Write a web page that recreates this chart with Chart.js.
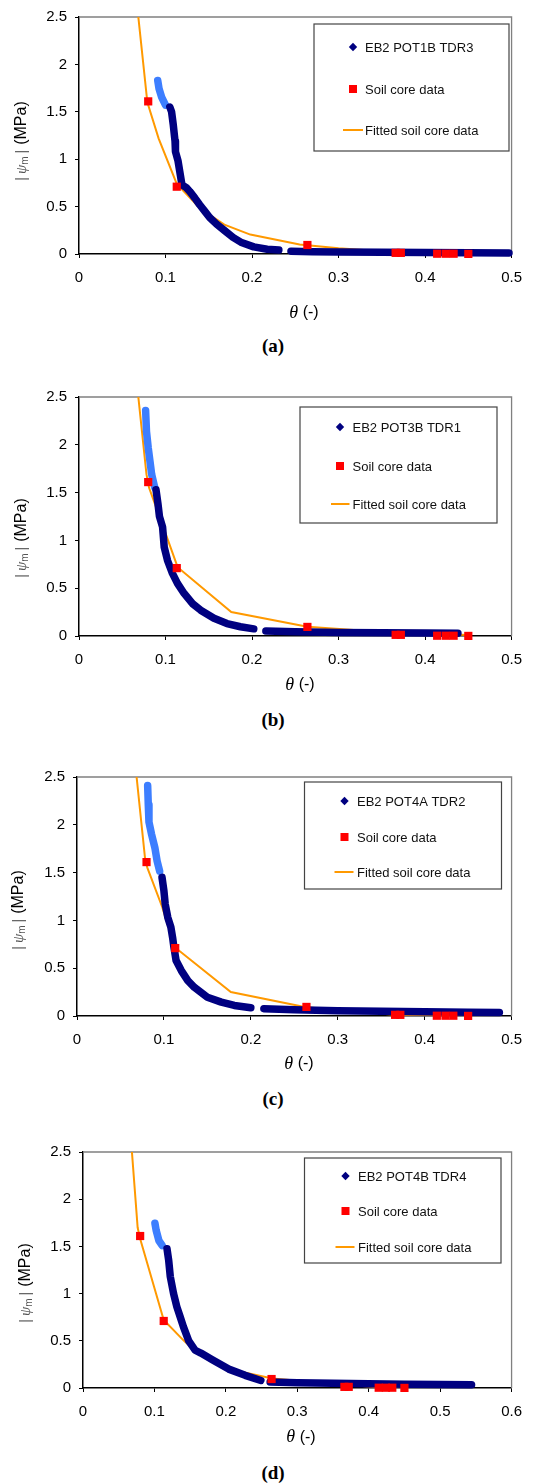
<!DOCTYPE html>
<html>
<head>
<meta charset="utf-8">
<script src="https://cdn.jsdelivr.net/npm/chart.js@4.4.1/dist/chart.umd.min.js"></script>
<style>
    body { margin: 0; background: #fff; width: 533px; height: 1484px; position: relative; overflow: hidden; }
    .panel { position: absolute; left: 0; width: 533px; }
    .cap { position: absolute; width: 60px; margin-left: -30px; text-align: center; font: bold 19px "Liberation Serif", "Times New Roman", serif; line-height: 22px; color: #000; }
</style>
</head>
<body>
<div class="panel" style="top:0px"><canvas id="chartA" width="533" height="330"></canvas></div>
<div class="panel" style="top:380px"><canvas id="chartB" width="533" height="320"></canvas></div>
<div class="panel" style="top:760px"><canvas id="chartC" width="533" height="320"></canvas></div>
<div class="panel" style="top:1135px"><canvas id="chartD" width="533" height="320"></canvas></div>
<div class="cap" style="left:273px;top:335px">(a)</div>
<div class="cap" style="left:273px;top:709px">(b)</div>
<div class="cap" style="left:273px;top:1088px">(c)</div>
<div class="cap" style="left:273px;top:1462px">(d)</div>

<script>
// tick labels
const yTicks = [0, 0.5, 1, 1.5, 2, 2.5];
const xTicks05 = [0, 0.1, 0.2, 0.3, 0.4, 0.5];
const xTicks06 = [0, 0.1, 0.2, 0.3, 0.4, 0.5, 0.6];

const coreName = "Soil core data";
const fitName = "Fitted soil core data";

// soil core samples (same in every pot)
const coreTheta = [0.080, 0.113, 0.264, 0.366, 0.372, 0.414, 0.424, 0.433, 0.450];
const corePsi = [1.61, 0.71, 0.095, 0.012, 0.012, 0.003, 0.003, 0.003, 0.001];

// (a) EB2 POT1B TDR3
const nameA = "EB2 POT1B TDR3";
const lightThetaA = [0.091, 0.0925, 0.0955, 0.100];
const lightPsiA = [1.83, 1.745, 1.655, 1.57];
const darkThetaA = [0.105, 0.107, 0.109, 0.111, 0.1115, 0.1145, 0.1165, 0.119, 0.124, 0.128, 0.134, 0.1395, 0.1455, 0.151, 0.159, 0.1685, 0.178, 0.187, 0.202, 0.2175, 0.231];
const darkPsiA = [1.55, 1.50, 1.36, 1.19, 1.08, 0.98, 0.87, 0.73, 0.70, 0.66, 0.59, 0.52, 0.45, 0.385, 0.315, 0.245, 0.175, 0.125, 0.075, 0.05, 0.042];
const tailThetaA = [0.245, 0.27, 0.30, 0.35, 0.40, 0.45, 0.497];
const tailPsiA = [0.03, 0.025, 0.022, 0.018, 0.015, 0.012, 0.01];
const fitThetaA = [0.068, 0.079, 0.092, 0.113, 0.14, 0.168, 0.198, 0.255, 0.30, 0.35, 0.40, 0.45];
const fitPsiA = [2.55, 1.60, 1.22, 0.74, 0.48, 0.31, 0.205, 0.10, 0.06, 0.03, 0.01, 0.002];

// (b) EB2 POT3B TDR1
const nameB = "EB2 POT3B TDR1";
const lightThetaB = [0.077, 0.078, 0.080, 0.082, 0.084, 0.0875];
const lightPsiB = [2.36, 2.14, 1.97, 1.83, 1.69, 1.555];
const darkThetaB = [0.089, 0.0913, 0.093, 0.0966, 0.0985, 0.1023, 0.108, 0.1138, 0.1215, 0.131, 0.1406, 0.156, 0.171, 0.1866, 0.202];
const darkPsiB = [1.53, 1.38, 1.25, 1.14, 0.93, 0.79, 0.655, 0.55, 0.445, 0.34, 0.27, 0.185, 0.13, 0.097, 0.075];
const tailThetaB = [0.216, 0.25, 0.30, 0.35, 0.40, 0.438];
const tailPsiB = [0.052, 0.045, 0.037, 0.033, 0.031, 0.03];
const fitThetaB = [0.068, 0.078, 0.081, 0.099, 0.114, 0.176, 0.264, 0.33, 0.40, 0.45];
const fitPsiB = [2.55, 1.69, 1.55, 1.10, 0.72, 0.25, 0.097, 0.055, 0.025, 0.01];

// (c) EB2 POT4A TDR2
const nameC = "EB2 POT4A TDR2";
const lightThetaC = [0.0813, 0.082, 0.0828, 0.0858, 0.0896, 0.0922, 0.0951];
const lightPsiC = [2.41, 2.21, 2.03, 1.90, 1.76, 1.62, 1.515];
const darkThetaC = [0.0978, 0.100, 0.1015, 0.1045, 0.108, 0.110, 0.1115, 0.114, 0.120, 0.1275, 0.135, 0.150, 0.166, 0.181, 0.200];
const darkPsiC = [1.45, 1.31, 1.17, 1.03, 0.93, 0.82, 0.72, 0.58, 0.475, 0.37, 0.30, 0.197, 0.145, 0.11, 0.087];
const tailThetaC = [0.215, 0.25, 0.30, 0.35, 0.40, 0.45, 0.486];
const tailPsiC = [0.076, 0.065, 0.055, 0.05, 0.045, 0.04, 0.036];
const fitThetaC = [0.068, 0.0785, 0.081, 0.098, 0.1125, 0.177, 0.262, 0.30, 0.37, 0.45];
const fitPsiC = [2.55, 1.63, 1.55, 1.14, 0.72, 0.25, 0.095, 0.06, 0.01, 0.001];

// (d) EB2 POT4B TDR4
const nameD = "EB2 POT4B TDR4";
const lightThetaD = [0.1007, 0.1025, 0.1062, 0.1108];
const lightPsiD = [1.745, 1.668, 1.562, 1.51];
const darkThetaD = [0.1176, 0.120, 0.1222, 0.1268, 0.1314, 0.136, 0.1405, 0.148, 0.157, 0.165, 0.181, 0.204, 0.227, 0.249];
const darkPsiD = [1.475, 1.35, 1.18, 1.00, 0.86, 0.755, 0.65, 0.50, 0.40, 0.37, 0.30, 0.20, 0.134, 0.08];
const tailThetaD = [0.262, 0.30, 0.35, 0.40, 0.45, 0.50, 0.544];
const tailPsiD = [0.063, 0.055, 0.05, 0.045, 0.04, 0.037, 0.035];
const fitThetaD = [0.068, 0.0765, 0.080, 0.113, 0.14, 0.16, 0.21, 0.265, 0.35, 0.41, 0.45];
const fitPsiD = [2.55, 1.70, 1.58, 0.72, 0.51, 0.37, 0.19, 0.10, 0.045, 0.01, 0.003];

const navy = "#000080";
const lightBlue = "#3d7eff";
const orange = "#ff9900";
const red = "#ff0000";
const sans = '"Liberation Sans", Arial, sans-serif';
const serif = '"Liberation Serif", "Times New Roman", serif';

function pts(xs, ys) {
    return xs.map((x, i) => ({ x: x, y: ys[i] }));
}

function fmt(v) {
    return String(Math.round(v * 10) / 10);
}

// gray frame on top and right of the plot area
const framePlugin = {
    id: "frame",
    beforeDatasetsDraw(chart) {
        const a = chart.chartArea;
        const c = chart.ctx;
        c.save();
        c.strokeStyle = "#808080";
        c.lineWidth = 1.3;
        c.beginPath();
        c.moveTo(a.left, a.top);
        c.lineTo(a.right, a.top);
        c.lineTo(a.right, a.bottom);
        c.stroke();
        c.restore();
    }
};

// axis titles and boxed legend
const decorPlugin = {
    id: "decor",
    afterDraw(chart, args, o) {
        const c = chart.ctx;
        c.save();

        // y title, reading bottom to top
        c.translate(o.yTitle[0], o.yTitle[1]);
        c.rotate(-Math.PI / 2);
        c.textBaseline = "middle";
        const parts = [
            { t: "|", f: "14px " + sans, col: "#555", dy: 0, gap: 3 },
            { t: "ψ", f: "italic 15px " + serif, col: "#555", dy: 0, gap: 0 },
            { t: "m", f: "10px " + sans, col: "#555", dy: 3, gap: 3 },
            { t: "|", f: "14px " + sans, col: "#555", dy: 0, gap: 5 },
            { t: "(MPa)", f: "16px " + sans, col: "#000", dy: 0, gap: 0 }
        ];
        let total = 0;
        parts.forEach((p) => {
            c.font = p.f;
            p.w = c.measureText(p.t).width;
            total += p.w + p.gap;
        });
        let px = -total / 2;
        parts.forEach((p) => {
            c.font = p.f;
            c.fillStyle = p.col;
            c.fillText(p.t, px, p.dy);
            px += p.w + p.gap;
        });
        c.setTransform(1, 0, 0, 1, 0, 0);

        // x title
        c.textBaseline = "middle";
        c.fillStyle = "#000";
        c.font = "italic 18px " + serif;
        const w1 = c.measureText("θ").width;
        c.font = "16px " + sans;
        const w2 = c.measureText(" (-)").width;
        let tx = o.xTitle[0] - (w1 + w2) / 2;
        c.font = "italic 18px " + serif;
        c.fillText("θ", tx, o.xTitle[1]);
        c.font = "16px " + sans;
        c.fillText(" (-)", tx + w1, o.xTitle[1]);

        // legend box
        const b = o.box;
        c.strokeStyle = "#444";
        c.lineWidth = 1.2;
        c.strokeRect(b.x, b.y, b.w, b.h);
        c.font = "13px " + sans;
        const labels = [o.name, coreName, fitName];
        labels.forEach((t, i) => {
            c.fillStyle = "#111";
            c.fillText(t, b.x + b.tx, b.y + b.rows[i] + 1);
        });
        const mx = b.x + b.mk;
        let my = b.y + b.rows[0];
        c.fillStyle = navy;
        c.beginPath();
        c.moveTo(mx, my - 4.2);
        c.lineTo(mx + 4.2, my);
        c.lineTo(mx, my + 4.2);
        c.lineTo(mx - 4.2, my);
        c.closePath();
        c.fill();
        my = b.y + b.rows[1];
        c.fillStyle = red;
        c.fillRect(mx - 4, my - 4, 8, 8);
        my = b.y + b.rows[2];
        c.strokeStyle = orange;
        c.lineWidth = 2;
        c.beginPath();
        c.moveTo(b.x + b.ln[0], my);
        c.lineTo(b.x + b.ln[1], my);
        c.stroke();
        c.restore();
    }
};

function buildChart(id, p) {
    const canvas = document.getElementById(id);
    const band = (data, color) => ({
        data: data,
        showLine: true,
        borderColor: color,
        backgroundColor: color,
        borderWidth: 7.5,
        borderCapStyle: "round",
        borderJoinStyle: "round",
        pointRadius: 0,
        tension: 0,
        clip: false
    });
    return new Chart(canvas, {
        type: "scatter",
        data: {
            datasets: [
                { label: coreName, data: pts(coreTheta, corePsi), pointStyle: "rect", pointRadius: 5.8, backgroundColor: red, borderWidth: 0, order: 0, clip: false },
                Object.assign(band(pts(p.darkTheta, p.darkPsi), navy), { label: p.name, order: 1 }),
                Object.assign(band(pts(p.tailTheta, p.tailPsi), navy), { label: p.name, order: 1 }),
                Object.assign(band(pts(p.lightTheta, p.lightPsi), lightBlue), { label: p.name, order: 2 }),
                { label: fitName, data: pts(p.fitTheta, p.fitPsi), showLine: true, borderColor: orange, borderWidth: 2, pointRadius: 0, tension: 0, order: 3 }
            ]
        },
        options: {
            responsive: false,
            animation: false,
            events: [],
            layout: { padding: { top: p.padTop, right: p.padRight, left: 0, bottom: 0 } },
            plugins: {
                legend: { display: false },
                tooltip: { enabled: false },
                decor: { yTitle: p.yTitle, xTitle: p.xTitle, box: p.box, name: p.name }
            },
            scales: {
                x: {
                    type: "linear",
                    min: 0,
                    max: p.xTicks[p.xTicks.length - 1],
                    afterBuildTicks: (s) => { s.ticks = p.xTicks.map((v) => ({ value: v })); },
                    afterFit: (s) => { s.height = p.xAxisH; },
                    grid: { drawOnChartArea: false, drawTicks: true, tickLength: 4, color: "#000" },
                    border: { color: "#000", width: 1.5 },
                    ticks: { color: "#000", font: { family: sans, size: 15 }, padding: 11, maxRotation: 0, autoSkip: false, callback: (v) => fmt(v) }
                },
                y: {
                    type: "linear",
                    min: 0,
                    max: 2.5,
                    afterBuildTicks: (s) => { s.ticks = yTicks.map((v) => ({ value: v })); },
                    afterFit: (s) => { s.width = p.yAxisW; },
                    grid: { drawOnChartArea: false, drawTicks: true, tickLength: 4, color: "#000" },
                    border: { color: "#000", width: 1.5 },
                    ticks: { color: "#000", font: { family: sans, size: 15 }, padding: 8, autoSkip: false, callback: (v) => fmt(v) }
                }
            }
        },
        plugins: [framePlugin, decorPlugin]
    });
}

buildChart("chartA", {
    name: nameA, xTicks: xTicks05,
    lightTheta: lightThetaA, lightPsi: lightPsiA, darkTheta: darkThetaA, darkPsi: darkPsiA,
    tailTheta: tailThetaA, tailPsi: tailPsiA, fitTheta: fitThetaA, fitPsi: fitPsiA,
    padTop: 15, padRight: 12, yAxisW: 79, xAxisH: 76,
    yTitle: [22, 141], xTitle: [304, 313],
    box: { x: 314, y: 24, w: 195, h: 127, rows: [23, 65, 106], mk: 39, tx: 51, ln: [29, 49] }
});

buildChart("chartB", {
    name: nameB, xTicks: xTicks05,
    lightTheta: lightThetaB, lightPsi: lightPsiB, darkTheta: darkThetaB, darkPsi: darkPsiB,
    tailTheta: tailThetaB, tailPsi: tailPsiB, fitTheta: fitThetaB, fitPsi: fitPsiB,
    padTop: 16, padRight: 12, yAxisW: 79, xAxisH: 64,
    yTitle: [22, 158], xTitle: [300, 305],
    box: { x: 300, y: 27, w: 197, h: 116, rows: [20, 59, 97], mk: 40, tx: 52.5, ln: [31, 49.5] }
});

buildChart("chartC", {
    name: nameC, xTicks: xTicks05,
    lightTheta: lightThetaC, lightPsi: lightPsiC, darkTheta: darkThetaC, darkPsi: darkPsiC,
    tailTheta: tailThetaC, tailPsi: tailPsiC, fitTheta: fitThetaC, fitPsi: fitPsiC,
    padTop: 15, padRight: 11, yAxisW: 77, xAxisH: 64,
    yTitle: [19, 150], xTitle: [299, 304],
    box: { x: 304.5, y: 22, w: 197, h: 107, rows: [19, 55, 90], mk: 40, tx: 52.5, ln: [30, 49] }
});

buildChart("chartD", {
    name: nameD, xTicks: xTicks06,
    lightTheta: lightThetaD, lightPsi: lightPsiD, darkTheta: darkThetaD, darkPsi: darkPsiD,
    tailTheta: tailThetaD, tailPsi: tailPsiD, fitTheta: fitThetaD, fitPsi: fitPsiD,
    padTop: 16, padRight: 13, yAxisW: 83, xAxisH: 67,
    yTitle: [26, 148], xTitle: [301, 302.5],
    box: { x: 304.5, y: 23, w: 196.5, h: 105, rows: [18, 53, 89], mk: 41, tx: 53.5, ln: [31, 50] }
});
</script>
</body>
</html>
